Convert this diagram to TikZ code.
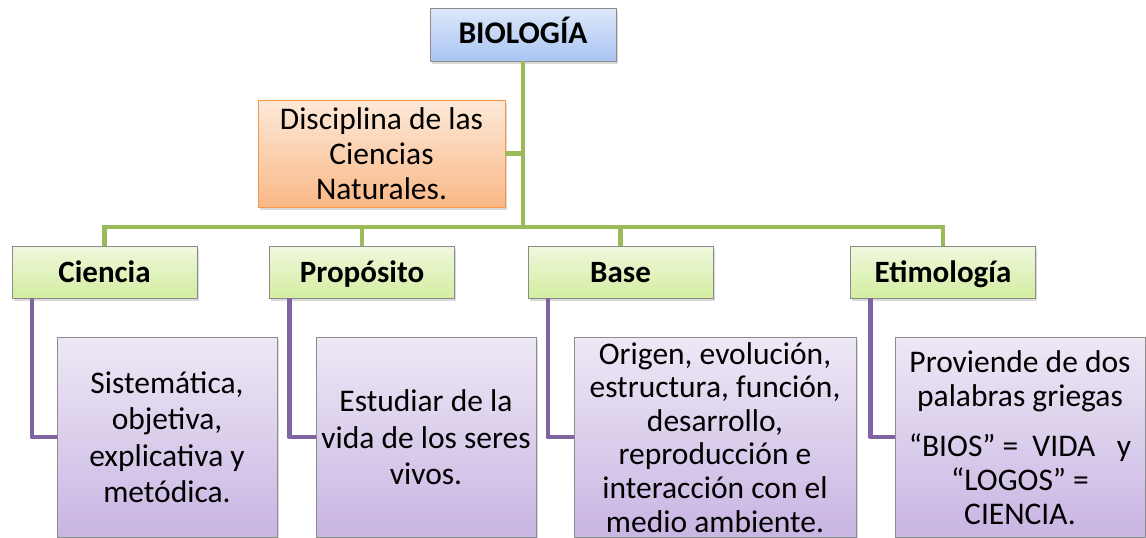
\documentclass[tikz,border=0pt]{standalone}
\usepackage{fontspec}
\setmainfont{Carlito}
\usetikzlibrary{shadows}

\definecolor{blueTop}{HTML}{DDE7F9}
\definecolor{blueBot}{HTML}{A9C5F2}
\definecolor{orangeTop}{HTML}{FDE9D8}
\definecolor{orangeBot}{HTML}{F9B887}
\definecolor{orangeLine}{HTML}{F79646}
\definecolor{greenTop}{HTML}{F0F8DE}
\definecolor{greenBot}{HTML}{D3EDA0}
\definecolor{greenLine}{HTML}{9BBB59}
\definecolor{purpleTop}{HTML}{EEE8F5}
\definecolor{purpleBot}{HTML}{C8B5E3}
\definecolor{purpleLine}{HTML}{8064A2}
\definecolor{boxEdge}{HTML}{8C8C8C}

\begin{document}
\begin{tikzpicture}[
        x=1pt, y=-1pt,
        every node/.style={align=center, font=\fontsize{31.5}{36.5}\selectfont, inner sep=1pt},
        softshadow/.style={drop shadow={opacity=0.3, shadow xshift=1.5pt, shadow yshift=-2.5pt}},
        titlebox/.style={rectangle, draw=boxEdge, top color=blueTop, bottom color=blueBot, minimum width=186pt, minimum height=53pt, text height=23pt, text depth=5pt, font=\fontsize{31.5}{36}\selectfont\bfseries, softshadow},
        notebox/.style={rectangle, draw=orangeLine, top color=orangeTop, bottom color=orangeBot, minimum width=247pt, minimum height=107pt, font=\fontsize{31.5}{35}\selectfont, softshadow},
        headbox/.style={rectangle, draw=boxEdge, top color=greenTop, bottom color=greenBot, minimum width=185pt, minimum height=52pt, text height=24pt, text depth=4pt, font=\fontsize{31}{36}\selectfont\bfseries, softshadow},
        detailbox/.style={rectangle, draw=boxEdge, top color=purpleTop, bottom color=purpleBot, minimum height=200pt, anchor=north, softshadow},
        greenline/.style={draw=greenLine, line width=4.5pt},
        purpleline/.style={draw=purpleLine, line width=4.5pt, line join=round}
    ]
    \useasboundingbox (0,0) rectangle (1146,538);

    % Nodes
    \node (bio) [titlebox] at (523,34.5) {BIOLOGÍA};
    \node (disc) [notebox] at (381.5,153.5) {Disciplina de las\\Ciencias\\Naturales.};

    \node (cien) [headbox] at (104.5,272) {Ciencia};
    \node (prop) [headbox] at (362,272) {Propósito};
    \node (base) [headbox] at (620.5,272) {Base};
    \node (etim) [headbox] at (943,272) {Etimología};

    \node (cienD) [detailbox, minimum width=220pt] at (167,337) {Sistemática,\\objetiva,\\explicativa y\\metódica.};
    \node (propD) [detailbox, minimum width=220pt] at (426,337) {Estudiar de la\\vida de los seres\\vivos.};
    \node (baseD) [detailbox, minimum width=282pt, inner ysep=0pt, font=\fontsize{31.5}{33.6}\selectfont] at (715,337) {Origen, evolución,\\estructura, función,\\desarrollo,\\reproducción e\\interacción con el\\medio ambiente.};
    \node (etimD) [detailbox, minimum width=250pt, font=\fontsize{31.5}{34}\selectfont] at (1020,337) {Proviende de dos\\palabras griegas\\[16pt]“BIOS” = \ VIDA \ \ y\\“LOGOS” =\\CIENCIA.};

    % Green connectors
    \coordinate (bus) at (523,227);
    \draw [greenline] (bio.south) -- (bus);
    \draw [greenline] (disc.east) -- (disc.east -| bus);
    \draw [greenline] (cien.north) |- (bus) -| (etim.north);
    \draw [greenline] (prop.north) -- (prop.north |- bus);
    \draw [greenline] (base.north) -- (base.north |- bus);

    % Purple connectors
    \draw [purpleline] ([xshift=20pt]cien.south west) |- (cienD.west);
    \draw [purpleline] ([xshift=20pt]prop.south west) |- (propD.west);
    \draw [purpleline] ([xshift=20pt]base.south west) |- (baseD.west);
    \draw [purpleline] ([xshift=20pt]etim.south west) |- (etimD.west);

    \end{tikzpicture}
\end{document}
